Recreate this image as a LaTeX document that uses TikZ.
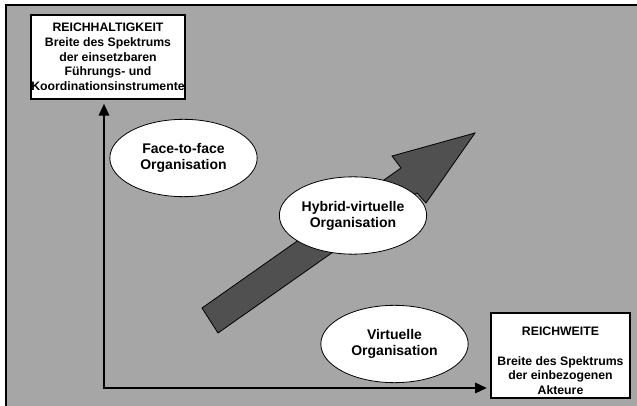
\documentclass[tikz,border=0pt]{standalone}
\usepackage{fontspec}
\setmainfont{Liberation Sans}
\usetikzlibrary{shapes.geometric,arrows.meta}
\definecolor{panelgray}{RGB}{166,166,166}
\definecolor{arrowgray}{RGB}{80,80,80}
\begin{document}
\begin{tikzpicture}[x=0.75pt,y=-0.75pt,
  labelbox/.style={draw=black,line width=0.8pt,fill=white,inner sep=0pt},
  boxtext/.style={align=center,font=\fontsize{9.2}{11}\selectfont\bfseries,inner sep=0pt},
  orgellipse/.style={ellipse,draw=black,line width=0.6pt,fill=white,
    minimum width=110.5pt,minimum height=58pt,inner sep=0pt,align=center,
    font=\fontsize{10.5}{12}\selectfont\bfseries},
  axis/.style={line width=2.2pt,line join=miter,
    {Triangle[length=9pt,width=7.5pt]}-{Triangle[length=9pt,width=7.5pt]}},
  trend/.style={fill=arrowgray,draw=black,line width=0.6pt,line join=miter}
]
\useasboundingbox (0,0) rectangle (637,406);
\fill[white] (0,0) rectangle (637,406);
% grey panel
\draw[fill=panelgray,line width=1.2pt] (6,5) rectangle (660,430);

% broad trend arrow
\draw[trend] (202,308) -- (401,168) -- (392,156) -- (475,133) -- (426,203)
  -- (417,193) -- (218,333) -- cycle;

% axis labels
\node[labelbox,boxtext,minimum width=115.5pt,minimum height=63pt] (rh) at (108,57)
  {REICHHALTIGKEIT\\Breite des Spektrums\\der einsetzbaren\\Führungs- und\\Koordinationsinstrumente};
\node[labelbox,minimum width=104.25pt,minimum height=63.75pt] (rw) at (560.5,355.5) {};
\node[boxtext] (rwtext) at ([yshift=-4pt]rw.center)
  {REICHWEITE\\[11pt]Breite des Spektrums\\der einbezogenen\\Akteure};

% axes
\coordinate (origin) at (104,388);
\draw[axis,shorten <=3pt,shorten >=2.5pt] (origin |- rh.south) -- (origin) -- (origin -| rw.west);

% organisation forms
\node[orgellipse] (f2f) at (183.5,158) {Face-to-face\\Organisation};
\node[orgellipse] (hyb) at (353,215.5) {Hybrid-virtuelle\\Organisation};
\node[orgellipse] (virt) at (394.5,344) {Virtuelle\\Organisation};
\end{tikzpicture}
\end{document}
